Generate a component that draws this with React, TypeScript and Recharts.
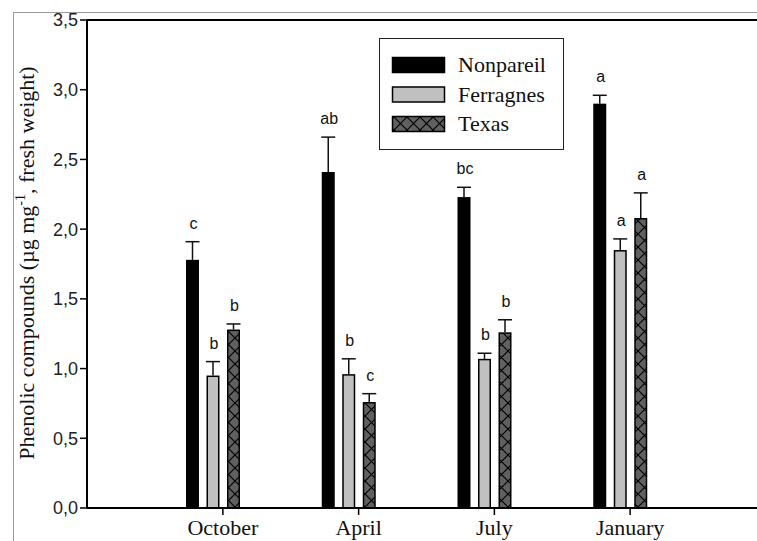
import { BarChart, Bar, XAxis, YAxis, ReferenceLine } from 'recharts';

const months = ['October', 'April', 'July', 'January'];

const nonpareil = [1.78, 2.41, 2.23, 2.9];
const nonpareilErr = [0.13, 0.25, 0.07, 0.06];
const nonpareilLetters = ['c', 'ab', 'bc', 'a'];

const ferragnes = [0.95, 0.96, 1.07, 1.85];
const ferragnesErr = [0.1, 0.11, 0.04, 0.08];
const ferragnesLetters = ['b', 'b', 'b', 'a'];

const texas = [1.28, 0.76, 1.26, 2.08];
const texasErr = [0.04, 0.06, 0.09, 0.18];
const texasLetters = ['b', 'c', 'b', 'a'];

const yTicks = [0, 0.5, 1, 1.5, 2, 2.5, 3, 3.5];

const data = months.map((m, i) => ({
  month: m,
  nonpareil: nonpareil[i],
  nonpareilErr: nonpareilErr[i],
  nonpareilLetter: nonpareilLetters[i],
  ferragnes: ferragnes[i],
  ferragnesErr: ferragnesErr[i],
  ferragnesLetter: ferragnesLetters[i],
  texas: texas[i],
  texasErr: texasErr[i],
  texasLetter: texasLetters[i],
}));

const SERIF = '"Liberation Serif", "Times New Roman", serif';
const SANS = '"Liberation Sans", Arial, sans-serif';
const TICK_SHIFT = 10;

const styles: Record<string, { fill: string; stroke?: string }> = {
  nonpareil: { fill: '#000' },
  ferragnes: { fill: '#c0c0c0', stroke: '#000' },
  texas: { fill: 'url(#hatch)', stroke: '#000' },
};

function makeShape(key: string) {
  return (props: any) => {
    const { x, y, width, height, payload } = props;
    const value = payload[key];
    const err = payload[key + 'Err'];
    const letter = payload[key + 'Letter'];
    const k = value ? height / value : 0;
    const cx = x + width / 2;
    const errTop = y - err * k;
    const st = styles[key];
    return (
      <g>
        {st.stroke ? (
          <rect x={x + 0.75} y={y + 0.75} width={width - 1.5} height={height - 0.75} fill={st.fill} stroke={st.stroke} strokeWidth={1.5} />
        ) : (
          <rect x={x} y={y} width={width} height={height} fill={st.fill} />
        )}
        <line x1={cx} x2={cx} y1={y} y2={errTop} stroke="#111" strokeWidth={1.5} />
        <line x1={cx - 7} x2={cx + 7} y1={errTop} y2={errTop} stroke="#111" strokeWidth={1.5} />
        <text x={cx + 1} y={errTop - 13} textAnchor="middle" fontFamily={SANS} fontSize={16} fill="#111">
          {letter}
        </text>
      </g>
    );
  };
}

function XTick(props: any) {
  const { x, y, payload } = props;
  const tx = x + TICK_SHIFT;
  return (
    <g>
      <line x1={tx} x2={tx} y1={y} y2={y + 7} stroke="#000" strokeWidth={1.5} />
      <text x={tx} y={y + 27} textAnchor="middle" fontFamily={SERIF} fontSize={22} fill="#111">
        {payload.value}
      </text>
    </g>
  );
}

function LegendBox() {
  const items = [
    { name: 'Nonpareil', key: 'nonpareil' },
    { name: 'Ferragnes', key: 'ferragnes' },
    { name: 'Texas', key: 'texas' },
  ];
  return (
    <div style={{ position: 'absolute', left: 379, top: 38, width: 185, height: 112, border: '1.5px solid #222', background: '#fff', boxSizing: 'border-box' }}>
      <svg width={182} height={109} style={{ display: 'block' }}>
        {items.map((it, i) => {
          const cy = 26 + i * 29.5;
          const st = styles[it.key];
          return (
            <g key={it.key}>
              <rect x={12.5} y={cy - 7.5} width={52} height={15} fill={st.fill} stroke="#000" strokeWidth={1.5} />
              <text x={78} y={cy + 7} fontFamily={SERIF} fontSize={22} fill="#111">
                {it.name}
              </text>
            </g>
          );
        })}
      </svg>
    </div>
  );
}

export default function App() {
  return (
    <div style={{ position: 'absolute', left: 0, top: 0, width: 757, height: 541, background: '#fff', overflow: 'hidden' }}>
      <svg width={0} height={0} style={{ position: 'absolute' }}>
        <defs>
          <pattern id="hatch" patternUnits="userSpaceOnUse" width={13} height={13} x={1} y={0}>
            <rect width={13} height={13} fill="#606060" />
            <path d="M0,0 L13,13 M13,0 L0,13" stroke="#000" strokeWidth={1.2} />
          </pattern>
        </defs>
      </svg>
      <div style={{ position: 'absolute', left: 13, top: 12, width: 744, height: 529, borderTop: '1px solid #9a9a9a', borderLeft: '1px solid #9a9a9a' }} />
      <BarChart
        width={757}
        height={541}
        data={data}
        margin={{ top: 20, right: 0, bottom: 0, left: 0 }}
        barSize={13}
        barGap={7.5}
        style={{ position: 'absolute', left: 0, top: 0 }}
      >
        <XAxis
          dataKey="month"
          height={33}
          padding={{ left: 58, right: 69 }}
          axisLine={{ stroke: '#000', strokeWidth: 2 }}
          tickLine={false}
          tickSize={0}
          tickMargin={0}
          tick={<XTick />}
          interval={0}
        />
        <YAxis
          width={87}
          domain={[0, 3.5]}
          ticks={yTicks}
          tickFormatter={(v: number) => v.toFixed(1).replace('.', ',')}
          axisLine={{ stroke: '#000', strokeWidth: 2 }}
          tickLine={{ stroke: '#000', strokeWidth: 1.5 }}
          tickSize={7}
          tickMargin={2}
          tick={{ fontFamily: SANS, fontSize: 18, fill: '#222' }}
        />
        <ReferenceLine y={3.5} stroke="#000" strokeWidth={2} />
        <Bar dataKey="nonpareil" name="Nonpareil" shape={makeShape('nonpareil')} isAnimationActive={false} />
        <Bar dataKey="ferragnes" name="Ferragnes" shape={makeShape('ferragnes')} isAnimationActive={false} />
        <Bar dataKey="texas" name="Texas" shape={makeShape('texas')} isAnimationActive={false} />
      </BarChart>
      <LegendBox />
      <svg width={60} height={541} style={{ position: 'absolute', left: 0, top: 0 }}>
        <text
          transform="translate(34,263) rotate(-90)"
          textAnchor="middle"
          fontFamily={SERIF}
          fontSize={22}
          fill="#111"
        >
          Phenolic compounds (µg mg
          <tspan fontSize={14} dy={-9}>-1</tspan>
          <tspan dy={9}>, fresh weight)</tspan>
        </text>
      </svg>
    </div>
  );
}
